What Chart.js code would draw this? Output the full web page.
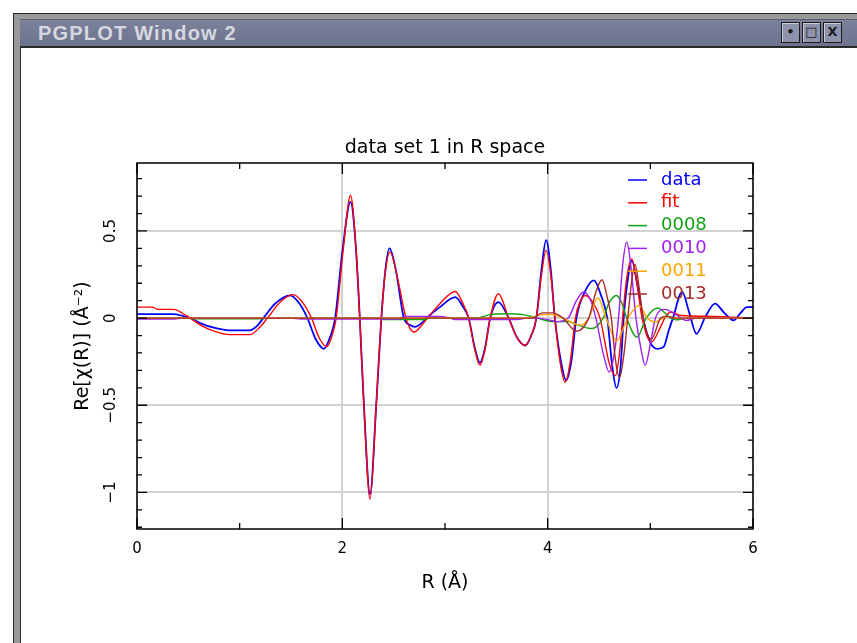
<!DOCTYPE html>
<html>
<head>
<meta charset="utf-8">
<title>PGPLOT Window 2</title>
<script src="https://cdn.jsdelivr.net/npm/chart.js@4/dist/chart.umd.min.js"></script>
<style>
  html, body { margin: 0; padding: 0; background: #fff; }
  #win { position: absolute; left: 0; top: 0; width: 857px; height: 643px; overflow: hidden; background: #fff; }
  .frame { position: absolute; left: 13px; top: 13px; width: 900px; height: 700px; background: #9a9a9a; border: 1px solid #262626; box-sizing: border-box; }
  .titlebar { position: absolute; left: 20px; top: 19px; width: 900px; height: 27px; background: linear-gradient(#7d829c, #6e738d); border-top: 1px solid #5a5d70; box-sizing: border-box; }
  .ttext { position: absolute; left: 38px; top: 22px; height: 24px; line-height: 24px; font: bold 20px "Liberation Sans", sans-serif; color: #d6d7e0; letter-spacing: 1.2px; white-space: nowrap; }
  .content { position: absolute; left: 20px; top: 46px; width: 900px; height: 700px; background: #fff; border-left: 1px solid #2a2a2a; border-top: 2px solid #2a2a2a; box-sizing: border-box; }
  .btn { position: absolute; top: 22px; width: 19px; height: 21px; background: #8e92aa; border: 1px solid #1c1c1c; box-shadow: inset 1px 1px 0 #c9cbd8; box-sizing: border-box; font: bold 13px "DejaVu Sans", sans-serif; color: #1c1c1c; text-align: center; line-height: 18px; }
  #chart { position: absolute; left: 0; top: 0; }
</style>
</head>
<body>
<div id="win">
  <div class="frame"></div>
  <div class="titlebar"></div>
  <div class="ttext">PGPLOT Window 2</div>
  <div class="btn" style="left:781px">&#8226;</div>
  <div class="btn" style="left:802px">&#9633;</div>
  <div class="btn" style="left:823px">X</div>
  <div class="content"></div>
  <canvas id="chart" width="857" height="643"></canvas>
</div>
<script>
// Re[chi(R)] for the measured data, the fit, and the individual scattering paths
const dataR   = [0, 0.35, 0.45, 0.52, 0.62, 0.75, 0.9, 1.1, 1.17, 1.23, 1.35, 1.49, 1.58, 1.66, 1.74, 1.82, 1.88, 1.93, 2.0, 2.08, 2.13, 2.17, 2.21, 2.27, 2.33, 2.38, 2.42, 2.46, 2.52, 2.60, 2.66, 2.71, 2.77, 2.82, 2.95, 3.10, 3.17, 3.23, 3.29, 3.34, 3.39, 3.44, 3.52, 3.62, 3.70, 3.78, 3.84, 3.89, 3.94, 3.985, 4.03, 4.07, 4.13, 4.18, 4.23, 4.28, 4.37, 4.45, 4.52, 4.58, 4.63, 4.67, 4.71, 4.74, 4.78, 4.82, 4.87, 4.93, 5.0, 5.07, 5.13, 5.18, 5.22, 5.31, 5.38, 5.45, 5.53, 5.63, 5.72, 5.81, 5.88, 5.94, 6.0];
const dataChi = [0.023, 0.023, 0.012, 0, -0.03, -0.055, -0.07, -0.07, -0.045, 0, 0.085, 0.13, 0.085, 0, -0.12, -0.176, -0.11, 0, 0.38, 0.667, 0.42, 0, -0.5, -1.01, -0.5, 0, 0.28, 0.40, 0.28, 0, -0.04, -0.05, -0.03, 0, 0.063, 0.12, 0.07, 0, -0.17, -0.256, -0.17, 0, 0.092, 0, -0.11, -0.157, -0.1, 0, 0.28, 0.447, 0.28, 0, -0.25, -0.358, -0.25, 0, 0.16, 0.217, 0.13, 0, -0.28, -0.40, -0.28, 0, 0.22, 0.33, 0.2, 0, -0.14, -0.176, -0.165, -0.07, 0, 0.15, 0.03, -0.09, 0, 0.083, 0.03, -0.013, 0.03, 0.063, 0.063];

const fitR   = [0, 0.15, 0.2, 0.36, 0.45, 0.52, 0.62, 0.75, 0.9, 1.1, 1.2, 1.27, 1.4, 1.52, 1.62, 1.70, 1.78, 1.85, 1.90, 1.94, 2.01, 2.08, 2.13, 2.17, 2.21, 2.27, 2.33, 2.38, 2.42, 2.465, 2.53, 2.62, 2.66, 2.70, 2.76, 2.83, 2.95, 3.10, 3.17, 3.23, 3.29, 3.34, 3.39, 3.44, 3.52, 3.62, 3.70, 3.78, 3.84, 3.89, 3.94, 3.985, 4.03, 4.07, 4.12, 4.17, 4.22, 4.27, 4.32, 4.37, 4.44, 4.51, 4.6, 4.66, 4.70, 4.73, 4.77, 4.82, 4.87, 4.92, 5.01, 5.10, 5.14, 5.2, 5.3, 5.6, 6.0];
const fitChi = [0.063, 0.063, 0.05, 0.05, 0.025, 0, -0.04, -0.075, -0.095, -0.095, -0.05, 0, 0.095, 0.135, 0.085, 0, -0.12, -0.163, -0.1, 0, 0.4, 0.705, 0.43, 0, -0.5, -1.04, -0.5, 0, 0.27, 0.38, 0.25, 0, -0.06, -0.08, -0.05, 0, 0.083, 0.153, 0.09, 0, -0.18, -0.27, -0.18, 0, 0.14, 0, -0.11, -0.157, -0.1, 0, 0.25, 0.39, 0.25, 0, -0.25, -0.368, -0.25, 0, 0.1, 0.13, 0.09, 0, -0.26, -0.33, -0.2, 0, 0.23, 0.34, 0.2, 0, -0.138, -0.05, 0, 0.035, 0.015, 0.01, 0];

const p0008R   = [0, 0.5, 0.58, 1.2, 1.28, 2.35, 2.4, 2.8, 2.85, 3.3, 3.44, 3.6, 3.76, 3.9, 4.05, 4.2, 4.3, 4.43, 4.54, 4.6, 4.67, 4.72, 4.77, 4.87, 4.96, 5.07, 5.2, 5.25, 5.35, 6.0];
const p0008Chi = [0, 0, -0.004, -0.004, 0, 0, -0.008, -0.008, 0, 0, 0.02, 0.025, 0.02, 0, -0.02, -0.02, -0.04, -0.06, 0, 0.09, 0.13, 0.09, 0, -0.11, 0, 0.058, 0, -0.01, 0, 0];

const p0010R   = [0, 0.36, 0.45, 1.5, 1.6, 2.55, 2.6, 2.95, 3.05, 3.1, 3.7, 3.8, 3.9, 4.05, 4.1, 4.2, 4.28, 4.35, 4.42, 4.47, 4.54, 4.6, 4.65, 4.69, 4.73, 4.77, 4.81, 4.86, 4.91, 4.95, 5.0, 5.05, 5.14, 5.25, 5.35, 5.45, 6.0];
const p0010Chi = [-0.005, -0.005, 0, 0, -0.005, -0.005, 0.01, 0.01, 0, -0.008, -0.008, 0, 0, -0.015, -0.02, 0, 0.1, 0.15, 0.1, 0, -0.2, -0.31, -0.2, 0, 0.3, 0.437, 0.3, 0, -0.18, -0.27, -0.15, 0, 0.05, 0.02, -0.013, 0, 0];

const p0011R   = [0, 3.8, 3.95, 4.05, 4.15, 4.32, 4.4, 4.49, 4.57, 4.67, 4.78, 4.89, 4.97, 5.05, 5.12, 5.17, 5.25, 6.0];
const p0011Chi = [0, 0, 0.02, 0.02, 0, -0.04, 0, 0.115, 0, -0.13, 0, 0.073, 0, -0.023, 0, 0.01, 0, 0];

const p0013R   = [0, 3.85, 3.95, 4.05, 4.15, 4.28, 4.4, 4.47, 4.53, 4.58, 4.62, 4.66, 4.70, 4.74, 4.78, 4.82, 4.85, 4.89, 4.93, 5.01, 5.1, 5.15, 5.25, 6.0];
const p0013Chi = [0, 0, 0.03, 0.03, 0, -0.075, 0, 0.15, 0.22, 0.12, 0, -0.24, -0.34, -0.22, 0, 0.22, 0.31, 0.18, 0, -0.12, 0, 0.01, 0, 0];

const seriesNames  = ['data', 'fit', '0008', '0010', '0011', '0013'];
const seriesColors = ['#0000ff', '#ff0000', '#14a014', '#a020f0', '#ffa500', '#a52a2a'];
const seriesR   = [dataR, fitR, p0008R, p0010R, p0011R, p0013R];
const seriesChi = [dataChi, fitChi, p0008Chi, p0010Chi, p0011Chi, p0013Chi];

const xTickLabels = ['0', '2', '4', '6'];

const FONT = '"DejaVu Sans", sans-serif';

function points(rs, ys) {
  return rs.map((r, i) => ({ x: r, y: ys[i] }));
}

const datasets = seriesNames.map((name, i) => ({
  label: name,
  data: points(seriesR[i], seriesChi[i]),
  borderColor: seriesColors[i],
  borderWidth: i === 0 ? 1.8 : 1.4,
  pointRadius: 0,
  cubicInterpolationMode: 'monotone',
  fill: false,
  // later series are painted over earlier ones
  order: seriesNames.length - i
}));

// PGPLOT-style frame: box, inward ticks, rotated y labels and the line legend
const pgFrame = {
  id: 'pgFrame',
  afterDatasetsDraw(chart) {
    const { ctx, chartArea: a, scales: { x, y } } = chart;
    ctx.save();
    ctx.strokeStyle = '#000';
    ctx.lineWidth = 1.5;
    ctx.strokeRect(a.left, a.top, a.right - a.left, a.bottom - a.top);

    ctx.lineWidth = 1.3;
    ctx.beginPath();
    for (let k = 0; k <= 6; k++) {
      const px = x.getPixelForValue(k);
      const len = k % 2 === 0 ? 11 : 6;
      ctx.moveTo(px, a.bottom); ctx.lineTo(px, a.bottom - len);
      ctx.moveTo(px, a.top); ctx.lineTo(px, a.top + len);
    }
    for (let k = -12; k <= 8; k++) {
      const py = y.getPixelForValue(k / 10);
      const len = k % 5 === 0 ? 10 : 5;
      ctx.moveTo(a.left, py); ctx.lineTo(a.left + len, py);
      ctx.moveTo(a.right, py); ctx.lineTo(a.right - len, py);
    }
    ctx.stroke();

    // y tick labels, written along the axis
    ctx.fillStyle = '#000';
    ctx.font = '15px ' + FONT;
    ctx.textAlign = 'center';
    ctx.textBaseline = 'middle';
    y.ticks.forEach(t => {
      const py = y.getPixelForValue(t.value);
      const txt = String(t.value).replace('-', '\u2212');
      ctx.save();
      ctx.translate(111, py);
      ctx.rotate(-Math.PI / 2);
      ctx.fillText(txt, 0, 0);
      ctx.restore();
    });

    // legend in the upper right of the plot
    ctx.font = '18px ' + FONT;
    ctx.textAlign = 'left';
    chart.data.datasets.forEach((ds, i) => {
      const ly = 180 + i * 22.8;
      ctx.strokeStyle = ds.borderColor;
      ctx.lineWidth = 1.5;
      ctx.beginPath();
      ctx.moveTo(628, ly); ctx.lineTo(647, ly);
      ctx.stroke();
      ctx.fillStyle = ds.borderColor;
      ctx.fillText(ds.label, 661, ly);
    });
    ctx.restore();
  }
};

new Chart(document.getElementById('chart'), {
  type: 'line',
  data: { datasets },
  options: {
    responsive: false,
    animation: false,
    devicePixelRatio: 1,
    layout: { padding: { left: 0, top: 0, right: 104, bottom: 0 } },
    plugins: {
      legend: { display: false },
      tooltip: { enabled: false },
      title: {
        display: true,
        fullSize: false,
        text: 'data set 1 in R space',
        color: '#000',
        font: { family: FONT, size: 19, weight: 'normal' },
        padding: { top: 136.6, bottom: 3.6 }
      }
    },
    scales: {
      x: {
        type: 'linear',
        min: 0,
        max: 6,
        afterFit: s => { s.height = 114; },
        ticks: {
          stepSize: 2,
          includeBounds: false,
          color: '#000',
          font: { family: FONT, size: 15 },
          padding: 11,
          maxRotation: 0,
          callback: v => xTickLabels[Math.round(v / 2)]
        },
        grid: { color: '#d2d2d2', lineWidth: 2, drawTicks: false },
        border: { display: false },
        title: {
          display: true,
          text: 'R (Å)',
          color: '#000',
          font: { family: FONT, size: 19 },
          padding: { top: 0, bottom: 48.6 }
        }
      },
      y: {
        type: 'linear',
        min: -1.21,
        max: 0.89,
        afterFit: s => { s.width = 137; },
        ticks: { stepSize: 0.5, includeBounds: false, display: false },
        grid: { color: '#d2d2d2', lineWidth: 2, drawTicks: false },
        border: { display: false },
        title: {
          display: true,
          text: 'Re[χ(R)] (Å⁻²)',
          color: '#000',
          font: { family: FONT, size: 19 },
          padding: { top: 71.6, bottom: 0 }
        }
      }
    }
  },
  plugins: [pgFrame]
});
</script>
</body>
</html>
